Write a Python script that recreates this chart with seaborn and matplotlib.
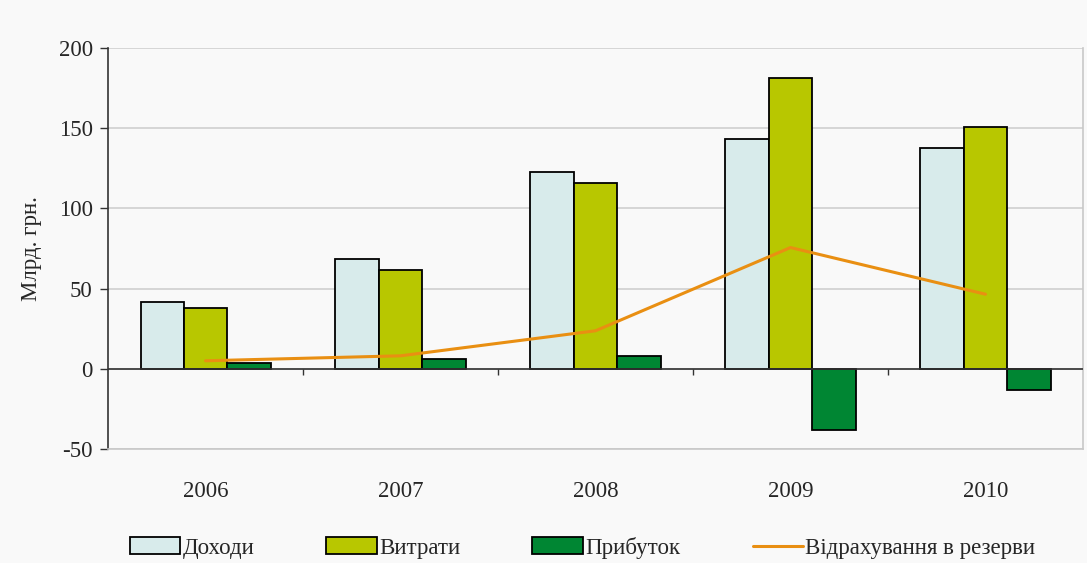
import numpy as np
import pandas as pd
import matplotlib
matplotlib.use("Agg")
import matplotlib.pyplot as plt
import seaborn as sns

years = ["2006", "2007", "2008", "2009", "2010"]
income = [41.5, 68.3, 122.5, 143.1, 137.5]
expenses = [37.8, 61.5, 115.6, 181.1, 150.5]
profit = [3.5, 6.4, 7.7, -38.0, -13.1]
reserves = [5.0, 8.1, 23.7, 75.6, 46.5]

series_names = ["Доходи", "Витрати", "Прибуток"]
line_name = "Відрахування в резерви"
bar_colors = ["#d8ebeb", "#b8c700", "#008633"]
line_color = "#e98f12"
bg = "#f9f9f9"

df = pd.DataFrame({
    "year": years * 3,
    "value": income + expenses + profit,
    "series": np.repeat(series_names, len(years)),
})

sns.set_style("white")
plt.rcParams["font.family"] = ["Liberation Serif", "DejaVu Serif"]
plt.rcParams["axes.unicode_minus"] = False
fs = 16.5

fig = plt.figure(figsize=(10.87, 5.63), dpi=100, facecolor=bg)
ax = fig.add_axes([0.0994, 0.2025, 0.8969, 0.7122])
ax.set_facecolor(bg)

sns.barplot(
    data=df, x="year", y="value", hue="series", order=years,
    hue_order=series_names, palette=bar_colors, width=0.667,
    edgecolor="black", linewidth=1.3, saturation=1, ax=ax, zorder=3,
)
sns.lineplot(x=np.arange(len(years)), y=reserves, color=line_color,
             linewidth=2.2, label=line_name, ax=ax, zorder=4)

ax.set_ylim(-50, 200)
ax.set_xlim(-0.5, len(years) - 0.5)
ax.set_yticks([-50, 0, 50, 100, 150, 200])
ax.yaxis.grid(True, color="#cfcfcf", linewidth=1.2, zorder=0)
ax.set_axisbelow(True)

# zero line with category separators
ax.axhline(0, color="#333333", linewidth=1.2, zorder=5)
ax.vlines(np.arange(len(years) - 1) + 0.5, -4, 0, color="#333333",
          linewidth=1.0, zorder=5)

for side in ["top", "right", "bottom"]:
    ax.spines[side].set_color("#c8c8c8")
    ax.spines[side].set_linewidth(1.2)
ax.spines["top"].set_visible(False)
ax.spines["left"].set_color("#333333")
ax.spines["left"].set_linewidth(1.2)

ax.tick_params(axis="y", labelsize=fs, length=6, color="#333333", width=1.0,
               direction="out", left=True, pad=5)
ax.tick_params(axis="x", labelsize=fs, length=0, pad=23)
ax.set_xlabel("")
ax.set_ylabel("Млрд. грн.", fontsize=fs, labelpad=12)

handles, labels = ax.get_legend_handles_labels()
if ax.legend_:
    ax.legend_.remove()
ax.legend(handles, labels, loc="center left", bbox_to_anchor=(0.111, 0.027),
          bbox_transform=fig.transFigure, ncol=4, frameon=False, fontsize=fs,
          handlelength=2.2, handleheight=0.75, handletextpad=0.1,
          columnspacing=3.15, borderaxespad=0)

fig.savefig("out.png", dpi=100, facecolor=bg)
